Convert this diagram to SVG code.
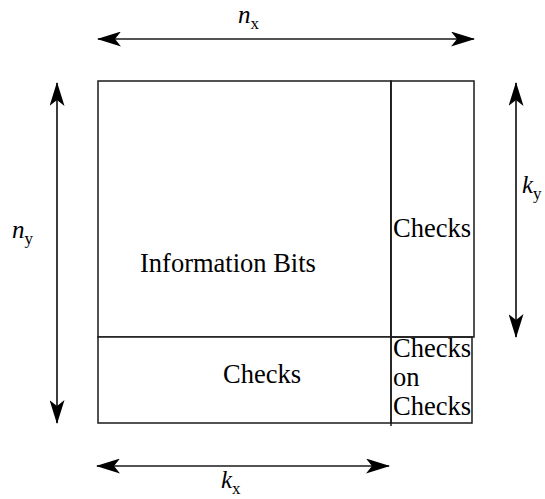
<svg xmlns="http://www.w3.org/2000/svg" width="545" height="499" viewBox="0 0 545 499">
  <style>
    .box { fill: #ffffff; stroke: #1a1a1a; stroke-width: 1.5; }
    .edge { fill: none; stroke: #1a1a1a; stroke-width: 1.5; }
    .dim { fill: none; stroke: #1a1a1a; stroke-width: 1.7; marker-start: url(#head); marker-end: url(#head); }
    .lbl { font-family: "Liberation Serif", "Times New Roman", serif; font-size: 26.5px; fill: #000; }
    .var { font-family: "Liberation Serif", "Times New Roman", serif; font-style: italic; font-size: 25px; fill: #000; }
    .sub { font-family: "Liberation Serif", "Times New Roman", serif; font-size: 17px; fill: #000; }
  </style>
  <defs>
    <marker id="head" viewBox="0 0 24 15" refX="23" refY="7.5" markerWidth="24" markerHeight="15" markerUnits="userSpaceOnUse" orient="auto-start-reverse">
      <path d="M0,0 L24,7.5 L0,15 L6,7.5 Z" fill="#000"/>
    </marker>
  </defs>

  <!-- code block -->
  <g id="information-bits">
    <rect class="box" x="98" y="81" width="293" height="256"/>
    <text class="lbl" x="140" y="272">Information Bits</text>
  </g>
  <g id="row-checks">
    <rect class="box" x="98" y="337" width="293" height="86"/>
    <text class="lbl" x="223" y="383">Checks</text>
  </g>
  <g id="column-checks">
    <rect class="box" x="391" y="81" width="83" height="256"/>
    <text class="lbl" x="393" y="237">Checks</text>
  </g>
  <g id="checks-on-checks">
    <path class="edge" d="M391,337 H472 V423 H391"/>
    <text class="lbl" x="393" y="357">Checks</text>
    <text class="lbl" x="393" y="386">on</text>
    <text class="lbl" x="393" y="415">Checks</text>
  </g>
  <path class="edge" d="M391,81 V426"/>

  <!-- dimension arrows -->
  <g id="connectors">
    <path class="dim" d="M98,39 H474"/>
    <path class="dim" d="M57,83 V423"/>
    <path class="dim" d="M516,83 V337"/>
    <path class="dim" d="M97,466 H389"/>
  </g>

  <!-- dimension labels -->
  <g id="labels">
    <text x="238" y="23"><tspan class="var">n</tspan><tspan class="sub" dy="6">x</tspan></text>
    <text x="12" y="238"><tspan class="var">n</tspan><tspan class="sub" dy="6">y</tspan></text>
    <text x="522" y="193"><tspan class="var">k</tspan><tspan class="sub" dy="6">y</tspan></text>
    <text x="221" y="488"><tspan class="var">k</tspan><tspan class="sub" dy="6">x</tspan></text>
  </g>
</svg>
